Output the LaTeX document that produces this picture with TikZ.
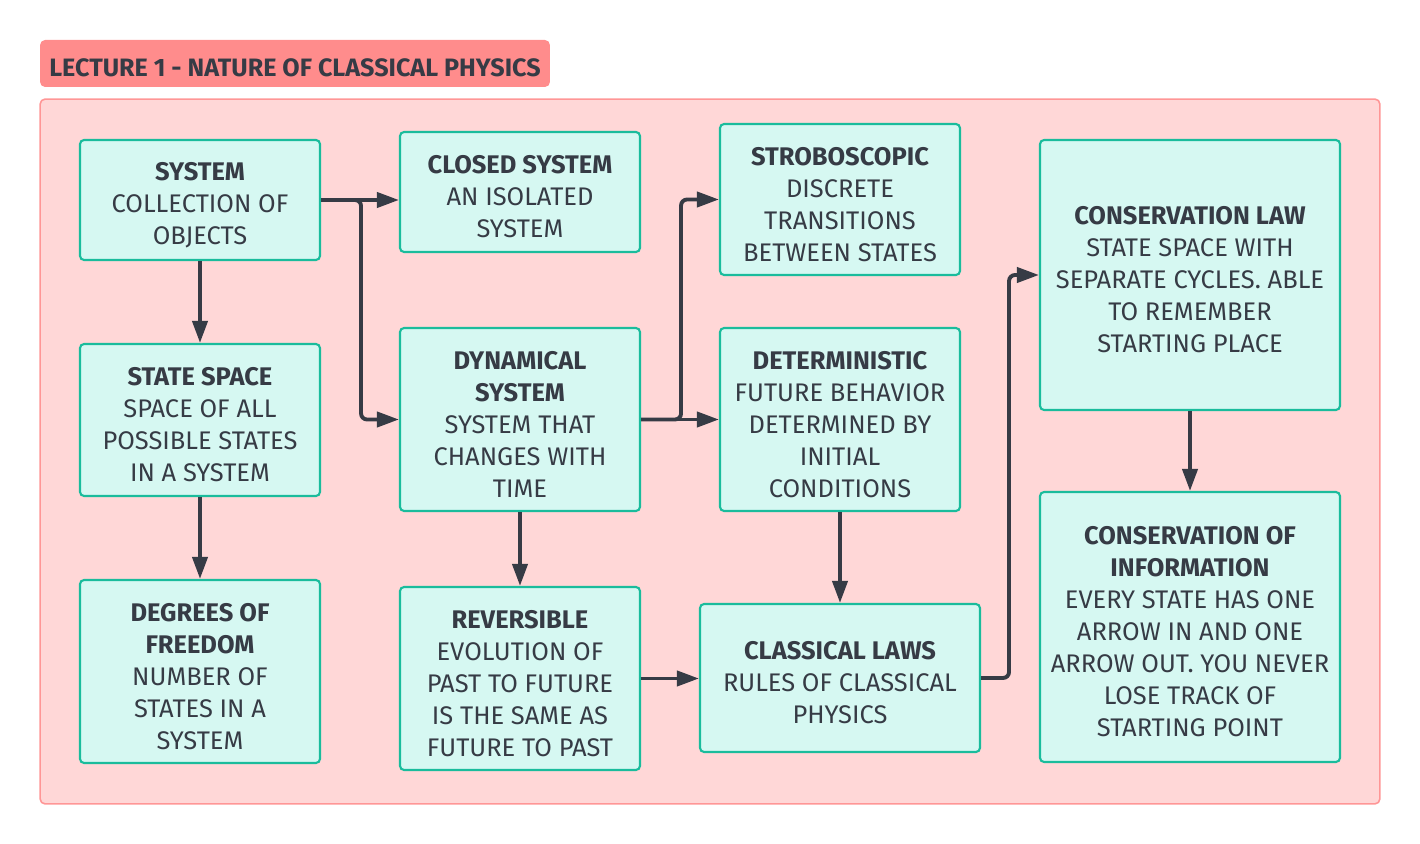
\documentclass[tikz,border=0pt]{standalone}
\usepackage{fontspec}
\setmainfont{Fira Sans}
\usetikzlibrary{arrows.meta,positioning}
\definecolor{inkdark}{RGB}{54,59,69}
\definecolor{boxback}{RGB}{214,248,242}
\definecolor{boxline}{RGB}{26,188,156}
\definecolor{frameback}{RGB}{255,215,215}
\definecolor{frameline}{RGB}{255,150,150}
\definecolor{titleback}{RGB}{255,140,140}
\newcommand{\cardtitle}[1]{\rule{0pt}{0.56cm}\textbf{#1}}

\begin{document}
\begin{tikzpicture}[x=0.02cm, y=-0.02cm,
  concept/.style={draw=boxline, line width=1.2pt, rounded corners=0.08cm, fill=boxback,
    align=center, minimum width=4.8cm, text=inkdark, font=\fontsize{14.5}{18.2}\selectfont, inner sep=0pt},
  arr/.style={-{Triangle[length=0.44cm, width=0.3cm]}, line width=2.2pt, draw=inkdark, rounded corners=0.12cm}
]
  \useasboundingbox (0,0) rectangle (1420,844);
  % frame and title
  \node[draw=frameline, line width=0.9pt, fill=frameback, rounded corners=0.1cm,
    minimum width=26.8cm, minimum height=14.1cm, inner sep=0pt] (frame) at (710,451.5) {};
  \node[fill=titleback, rounded corners=0.1cm, minimum width=10.2cm, minimum height=0.94cm,
    text=inkdark, font=\fontsize{14.3}{16}\selectfont\bfseries, inner sep=0pt] (title) at (295,63.5)
    {\rule{0pt}{0.52cm}LECTURE 1 - NATURE OF CLASSICAL PHYSICS};

  % first column
  \node[concept, minimum height=2.4cm] (system) at (200,200)
    {\cardtitle{SYSTEM}\\ COLLECTION OF\\ OBJECTS};
  \node[concept, minimum height=3.04cm] (statespace) at (200,420)
    {\cardtitle{STATE SPACE}\\ SPACE OF ALL\\ POSSIBLE STATES\\ IN A SYSTEM};
  \node[concept, minimum height=3.66cm] (freedom) at (200,671.5)
    {\cardtitle{DEGREES OF}\\ \textbf{FREEDOM}\\ NUMBER OF\\ STATES IN A\\ SYSTEM};

  % second column
  \node[concept, minimum height=2.4cm] (closed) at (520,192)
    {\cardtitle{CLOSED SYSTEM}\\ AN ISOLATED\\ SYSTEM};
  \node[concept, minimum height=3.66cm] (dynamical) at (520,419.5)
    {\cardtitle{DYNAMICAL}\\ \textbf{SYSTEM}\\ SYSTEM THAT\\ CHANGES WITH\\ TIME};
  \node[concept, minimum height=3.66cm] (reversible) at (520,678.5)
    {\cardtitle{REVERSIBLE}\\ EVOLUTION OF\\ PAST TO FUTURE\\ IS THE SAME AS\\ FUTURE TO PAST};

  % third column
  \node[concept, minimum height=3.02cm] (strobe) at (840,199.5)
    {\cardtitle{STROBOSCOPIC}\\ DISCRETE\\ TRANSITIONS\\ BETWEEN STATES};
  \node[concept, minimum height=3.66cm] (determ) at (840,419.5)
    {\cardtitle{DETERMINISTIC}\\ FUTURE BEHAVIOR\\ DETERMINED BY\\ INITIAL\\ CONDITIONS};
  \node[concept, minimum width=5.6cm, minimum height=2.96cm] (laws) at (840,678)
    {\cardtitle{CLASSICAL LAWS}\\ RULES OF CLASSICAL\\ PHYSICS};

  % fourth column
  \node[concept, minimum width=6cm, minimum height=5.4cm] (conslaw) at (1190,275)
    {\cardtitle{CONSERVATION LAW}\\ STATE SPACE WITH\\ SEPARATE CYCLES. ABLE\\ TO REMEMBER\\ STARTING PLACE};
  \node[concept, minimum width=6cm, minimum height=5.4cm] (consinfo) at (1190,627)
    {\cardtitle{CONSERVATION OF}\\ \textbf{INFORMATION}\\ EVERY STATE HAS ONE\\ ARROW IN AND ONE\\ ARROW OUT. YOU NEVER\\ LOSE TRACK OF\\ STARTING POINT};

  % connectors
  \draw[arr] (system.east) -- (system.east -| closed.west);
  \draw[arr] (system.east) -- ++(40,0) |- (dynamical.west);
  \draw[arr] (system) -- (statespace);
  \draw[arr] (statespace) -- (freedom);
  \draw[arr] (dynamical.east) -- (determ.west);
  \draw[arr] (dynamical.east) -- ++(40,0) |- (strobe.west);
  \draw[arr] (dynamical) -- (reversible);
  \draw[arr] (determ) -- (laws);
  \draw[arr] (reversible.east) -- (reversible.east -| laws.west);
  \draw[arr] (laws.east) -- ++(28,0) |- (conslaw.west);
  \draw[arr] (conslaw) -- (consinfo);
\end{tikzpicture}
\end{document}
